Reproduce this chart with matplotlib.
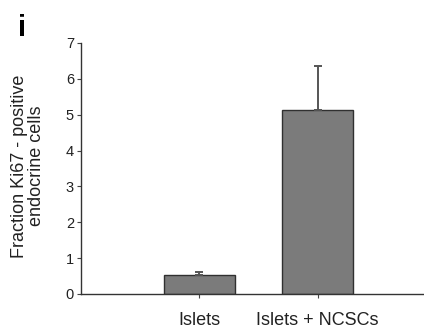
#!/usr/bin/env python
# -*- coding: utf-8 -*-

import matplotlib
matplotlib.use("Agg")
from matplotlib import pyplot as plt

groups = ["Islets", "Islets + NCSCs"]
means = [0.52, 5.12]
errs_up = [0.1, 1.23]
yticks = [0, 1, 2, 3, 4, 5, 6, 7]

plt.rcParams["font.family"] = ["Liberation Sans", "DejaVu Sans"]

fig = plt.figure(figsize=(4.24, 3.29), dpi=100)
ax = fig.add_axes([0.191, 0.1064, 0.809, 0.763])

x = [1, 2]
ax.bar(x, means, width=0.6, color="#7b7b7b", edgecolor="#303030", linewidth=1.0,
       zorder=2)
ax.errorbar(x, means, yerr=[[0, 0], errs_up], fmt="none", ecolor="#555555",
            elinewidth=1.4, capsize=3, capthick=1.4, zorder=3)

ax.set_xlim(0, 2.9)
ax.set_ylim(0, 7)
ax.set_yticks(yticks)
ax.set_xticks(x)
ax.set_xticklabels(groups, fontsize=13, color="#222222")
ax.tick_params(axis="x", direction="out", length=3, width=0.8, pad=10,
               colors="#444444", labelcolor="#222222")
ax.tick_params(axis="y", direction="out", length=3, width=0.8, pad=2,
               labelsize=10.5, colors="#444444", labelcolor="#222222")

for side in ["top", "right"]:
    ax.spines[side].set_visible(False)
for side in ["left", "bottom"]:
    ax.spines[side].set_linewidth(1.0)
    ax.spines[side].set_color("#333333")

fig.text(28 / 424, 1 - 166 / 329, "Fraction Ki67 - positive\nendocrine cells",
         rotation=90, ha="center", va="center", fontsize=13, color="#222222",
         linespacing=1.0)
fig.text(18 / 424, 1 - 36 / 329, "i", fontsize=21, fontweight="bold",
         ha="left", va="baseline", color="black")

plt.savefig("out.png", dpi=100)
